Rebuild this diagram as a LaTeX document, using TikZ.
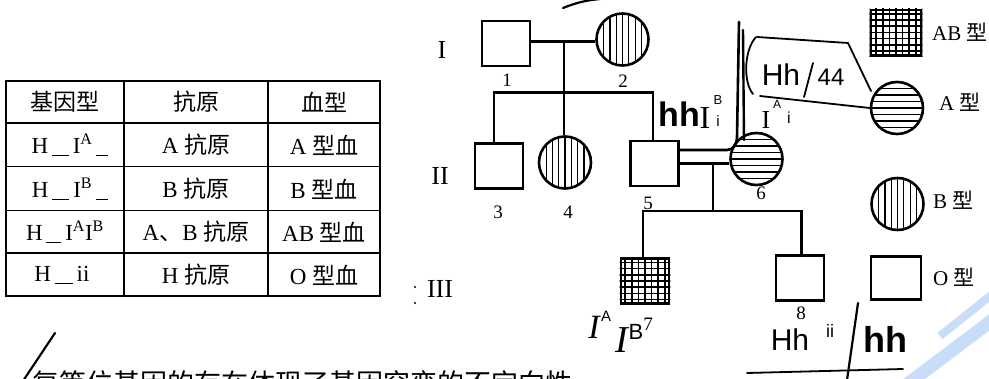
\documentclass[tikz,border=0pt]{standalone}
\usepackage{fontspec}
\setmainfont{Liberation Serif}
\newfontfamily\cjk{Noto Sans CJK SC}
\newfontfamily\hand{Liberation Sans}
\definecolor{wm}{RGB}{200,222,248}
\tikzset{
 sq/.style={draw, line width=2.6pt, minimum width=48pt, minimum height=45pt, inner sep=0pt},
 circ/.style={draw, circle, line width=2.6pt, minimum size=52pt, inner sep=0pt},
 ln/.style={line width=2.4pt},
 hatchln/.style={line width=1.2pt},
 gridln/.style={line width=1.6pt},
 num/.style={font=\fontsize{19}{19}\selectfont, inner sep=0pt},
 gen/.style={font=\fontsize{26}{26}\selectfont, inner sep=0pt},
 cell/.style={font=\fontsize{23}{23}\selectfont, inner sep=0pt},
 hw/.style={line width=2.2pt, line cap=round, line join=round},
 hwt/.style={inner sep=0pt, font=\hand\bfseries\fontsize{34}{34}\selectfont},
 leg/.style={font=\fontsize{21}{21}\selectfont, anchor=west, inner sep=0pt},
}
\newcommand\vhatchc[1]{\begin{scope}\clip (#1.center) circle (25pt);
 \foreach \k in {-4,...,4}{\draw[hatchln] ([shift={(\k*6.3,-30)}]#1.center) -- ++(0,60);}
 \end{scope}}
\newcommand\hhatchc[1]{\begin{scope}\clip (#1.center) circle (25pt);
 \foreach \k in {-4,...,4}{\draw[hatchln] ([shift={(-30,\k*6.5)}]#1.center) -- ++(60,0);}
 \end{scope}}
\newcommand\gridsq[1]{\begin{scope}\clip (#1.south west) rectangle (#1.north east);
 \foreach \k in {-4,...,4}{\draw[gridln] ([shift={(\k*6.6,-30)}]#1.center) -- ++(0,60);
 \draw[gridln] ([shift={(-30,\k*6.2)}]#1.center) -- ++(60,0);}
 \end{scope}}
\newcommand\blank[1]{\rule[-3pt]{#1}{1.3pt}}
\begin{document}
\begin{tikzpicture}[x=1pt,y=-1pt]
\useasboundingbox (0,0) rectangle (989,379);
% watermark
\draw[wm, line width=13pt] (905,386) -- (995,318);
\draw[wm, line width=8pt] (940,336) -- (995,292);
% ---------- table ----------
\draw[line width=2.2pt] (6,81) rectangle (380,296);
\foreach \yy in {123,166.5,210.5,253} \draw[line width=1.6pt] (6,\yy) -- (380,\yy);
\foreach \xx in {124,268} \draw[line width=1.6pt] (\xx,81) -- (\xx,296);
\node[cell] (t11) at (65,102) {\cjk 基因型};
\node[cell] (t12) at (196,102) {\cjk 抗原};
\node[cell] (t13) at (324,102) {\cjk 血型};
\node[cell] (t21) at (70,145) {H\,\blank{17pt}\,I\textsuperscript{A}\,\blank{12pt}};
\node[cell] (t22) at (196,145) {A {\cjk 抗原}};
\node[cell] (t23) at (324,145) {A {\cjk 型血}};
\node[cell] (t31) at (70,189) {H\,\blank{17pt}\,I\textsuperscript{B}\,\blank{12pt}};
\node[cell] (t32) at (196,189) {B {\cjk 抗原}};
\node[cell] (t33) at (324,189) {B {\cjk 型血}};
\node[cell] (t41) at (65,232) {H\,\blank{15pt}\,I\textsuperscript{A}I\textsuperscript{B}};
\node[cell] (t42) at (196,232) {A{\cjk 、}B {\cjk 抗原}};
\node[cell] (t43) at (324,232) {AB {\cjk 型血}};
\node[cell] (t51) at (62,275) {H\,\blank{18pt}\,ii};
\node[cell] (t52) at (196,275) {H {\cjk 抗原}};
\node[cell] (t53) at (324,275) {O {\cjk 型血}};
% ---------- pedigree ----------
\node[gen] (g1) at (442,50) {I};
\node[gen] (g2) at (440,176) {II};
\node[gen] (g3) at (440,289) {III};
\fill (415,287) circle (1.1pt) (415,303) circle (1.1pt);
\node[sq] (n1) at (506,43.5) {};
\node[circ] (n2) at (622.5,39.5) {};
\node[sq] (n3) at (499,166) {};
\node[circ] (n4) at (565,162.5) {};
\node[sq] (n5) at (654.5,163.5) {};
\node[circ] (n6) at (756.5,159) {};
\node[sq] (n7) at (645,281) {};
\node[sq] (n8) at (800,278) {};
\vhatchc{n2}\vhatchc{n4}\hhatchc{n6}\gridsq{n7}
\coordinate (m12) at (564,41.7);
\coordinate (sL) at (494,92.5);
\coordinate (sM) at (564,92.5);
\coordinate (sR) at (653,92.5);
\draw[ln] (n1.east |- m12) -- (n2.west |- m12);
\draw[ln] (m12) -- (m12 |- n4.north);
\draw[ln] (n3.north -| sL) -- (sL) -- (sR) -- (sR |- n5.north);
\coordinate (m56) at (713,163.5);
\coordinate (s3L) at (643,211);
\coordinate (s3M) at (713,211);
\coordinate (s3R) at (801.5,211);
\draw[ln] (n5.east |- m56) -- (n6.west |- m56);
\draw[ln] (m56) -- (s3M);
\draw[ln] (n7.north -| s3L) -- (s3L) -- (s3R) -- (s3R |- n8.north);
\node[num] (l1) at (507,80) {1};
\node[num] (l2) at (623,81) {2};
\node[num] (l3) at (498,212) {3};
\node[num] (l4) at (568,212) {4};
\node[num] (l5) at (648,203) {5};
\node[num] (l6) at (761,193) {6};
\node[num] (l7) at (648,324) {7};
\node[num] (l8) at (801,313) {8};
% ---------- legend ----------
\node[sq, minimum width=50pt, minimum height=45pt] (lAB) at (896,32.5) {};
\node[circ] (lA) at (897,108) {};
\node[circ] (lB) at (897.5,204) {};
\node[sq, minimum width=50pt, minimum height=43pt] (lO) at (896,278) {};
\gridsq{lAB}\hhatchc{lA}\vhatchc{lB}
\node[leg] (tAB) at (932,32) {AB {\cjk 型}};
\node[leg] (tA) at (939,102) {A {\cjk 型}};
\node[leg] (tB) at (933,200) {B {\cjk 型}};
\node[leg] (tO) at (933,277) {O {\cjk 型}};
% ---------- handwriting ----------
\draw[hw] (563,8) to[bend left=8] (600,-1);
\draw[hw, line width=2.6pt] (680,150) -- (727,150) to[out=0,in=-90] (737,138) -- (739,22);
\draw[hw, line width=2.4pt] (743,30) -- (744,140);
\node[hwt] (hA) at (679,114) {hh};
\node[inner sep=0pt, font=\fontsize{32}{32}\selectfont] (hB) at (705,118) {I};
\node[inner sep=0pt, font=\hand\fontsize{13}{13}\selectfont] (hC) at (718,100) {B};
\node[inner sep=0pt, font=\hand\fontsize{15}{15}\selectfont] (hD) at (718,121) {i};
\draw[hw, line width=1.8pt] (756,37) .. controls (744,50) and (743,82) .. (753,94);
\draw[hw, line width=1.8pt] (757,37) -- (848,43) -- (871,91);
\node[inner sep=0pt, font=\hand\fontsize{30}{30}\selectfont] (hE) at (781,75) {Hh};
\draw[hw, line width=1.8pt] (804,97) -- (813,63);
\node[inner sep=0pt, font=\hand\fontsize{24}{24}\selectfont] (hF) at (831,77) {44};
\draw[hw, line width=1.8pt] (760,96) -- (lA.west);
\node[inner sep=0pt, font=\fontsize{26}{26}\selectfont] (hG) at (766,120) {I};
\node[inner sep=0pt, font=\hand\fontsize{12}{12}\selectfont] (hH) at (777,104) {A};
\node[inner sep=0pt, font=\hand\fontsize{16}{16}\selectfont] (hI) at (789,118) {i};
\node[inner sep=0pt, font=\fontsize{34}{34}\selectfont\itshape] (hJ) at (594,327) {I};
\node[inner sep=0pt, font=\hand\fontsize{15}{15}\selectfont] (hK) at (606,316) {A};
\node[inner sep=0pt, font=\fontsize{38}{38}\selectfont\itshape] (hL) at (622,340) {I};
\node[inner sep=0pt, font=\hand\fontsize{22}{22}\selectfont] (hM) at (636,332) {B};
\node[inner sep=0pt, font=\hand\fontsize{30}{30}\selectfont] (hN) at (790,340) {Hh};
\node[inner sep=0pt, font=\hand\fontsize{18}{18}\selectfont] (hO) at (830,331) {ii};
\draw[hw] (858,303) -- (847,380);
\node[hwt, font=\hand\bfseries\fontsize{36}{36}\selectfont] (hP) at (885,339) {hh};
\draw[hw, line width=1.8pt] (747,373) -- (903,369);
% ---------- bottom text ----------
\draw[hw] (23,381) -- (55,333);
\node[anchor=base west, inner sep=0pt, font=\cjk\fontsize{27}{27}\selectfont] (bt) at (32,394) {复等位基因的存在体现了基因突变的不定向性};
\end{tikzpicture}
\end{document}
